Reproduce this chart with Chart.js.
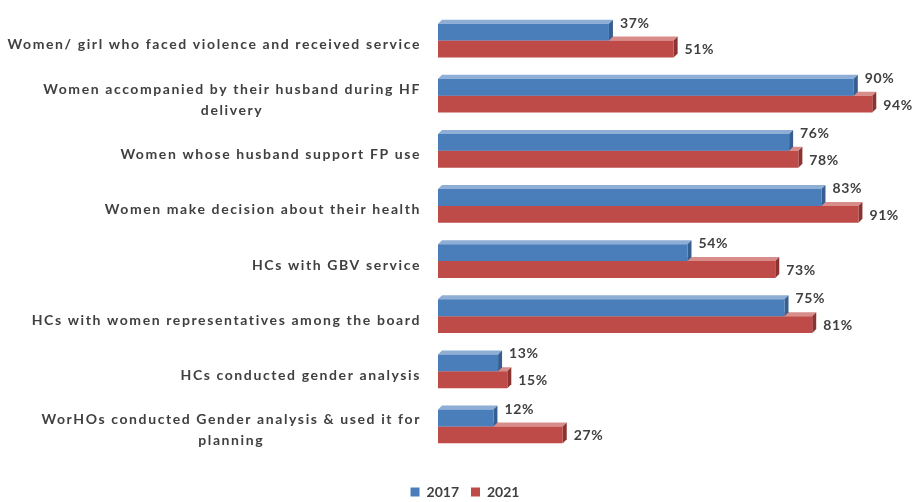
<!DOCTYPE html>
<html>
<head>
<meta charset="utf-8">
<script src="https://cdn.jsdelivr.net/npm/chart.js@4.4.1/dist/chart.umd.min.js"></script>
<style>
    html, body { margin: 0; padding: 0; background: #ffffff; }
    #wrap { width: 914px; height: 502px; position: relative; }
</style>
</head>
<body>
<div id="wrap"><canvas id="genderChart"></canvas></div>
<script>
const categories = [
    'Women/ girl who faced violence and received service',
    ['Women accompanied by their husband during HF', 'delivery'],
    'Women whose husband support FP use',
    'Women make decision about their health',
    'HCs with GBV service',
    'HCs with women representatives among the board',
    'HCs conducted gender analysis',
    ['WorHOs conducted Gender analysis & used it for', 'planning']
];
const values2017 = [37, 90, 76, 83, 54, 75, 13, 12];
const values2021 = [51, 94, 78, 91, 73, 81, 15, 27];
const seriesNames = ['2017', '2021'];

const TEXT = '#404040';
const FONT = 'Lato, "Open Sans", sans-serif';
const DEPTH = 4;
const LEGEND_Y = 492;

const faces = [
    { front: '#4a7ebb', top: '#8eaed6', side: '#355f90' },
    { front: '#be4b48', top: '#d98d8b', side: '#8a3331' }
];

// fake 3d: top and right faces behind the flat bars
const depthPlugin = {
    id: 'depth',
    afterLayout(chart) {
        // push the legend row down to the bottom edge
        const lg = chart.legend;
        const shift = LEGEND_Y - (lg.top + lg.options.labels.padding + 7);
        lg.top += shift;
        lg.bottom += shift;
    },
    beforeDatasetsDraw(chart) {
        const ctx = chart.ctx;
        for (let d = chart.data.datasets.length - 1; d >= 0; d--) {
            const meta = chart.getDatasetMeta(d);
            meta.data.forEach((bar) => {
                const top = bar.y - bar.height / 2;
                const bottom = bar.y + bar.height / 2;
                ctx.save();
                ctx.fillStyle = faces[d].top;
                ctx.beginPath();
                ctx.moveTo(bar.base, top);
                ctx.lineTo(bar.base + DEPTH, top - DEPTH);
                ctx.lineTo(bar.x + DEPTH, top - DEPTH);
                ctx.lineTo(bar.x, top);
                ctx.closePath();
                ctx.fill();
                ctx.fillStyle = faces[d].side;
                ctx.beginPath();
                ctx.moveTo(bar.x, top);
                ctx.lineTo(bar.x + DEPTH, top - DEPTH);
                ctx.lineTo(bar.x + DEPTH, bottom - DEPTH);
                ctx.lineTo(bar.x, bottom);
                ctx.closePath();
                ctx.fill();
                ctx.restore();
            });
        }
    },
    afterDatasetsDraw(chart) {
        const ctx = chart.ctx;
        ctx.save();
        ctx.font = 'bold 14px ' + FONT;
        ctx.letterSpacing = '0.6px';
        ctx.fillStyle = TEXT;
        ctx.textAlign = 'left';
        ctx.textBaseline = 'middle';
        chart.data.datasets.forEach((ds, d) => {
            chart.getDatasetMeta(d).data.forEach((bar, i) => {
                const dy = d === 0 ? -9 : 1;
                ctx.fillText(ds.data[i] + '%', bar.x + DEPTH + 7, bar.y + dy);
            });
        });
        ctx.restore();
    },
    afterDraw(chart) {
        // category labels: block right-aligned, lines centred within the block
        const ctx = chart.ctx;
        const scale = chart.scales.y;
        const right = 421;
        const lineH = 21;
        ctx.save();
        ctx.font = 'bold 14px ' + FONT;
        ctx.letterSpacing = '1.6px';
        ctx.fillStyle = TEXT;
        ctx.textBaseline = 'middle';
        ctx.textAlign = 'left';
        chart.data.labels.forEach((label, i) => {
            const lines = Array.isArray(label) ? label : [label];
            const widths = lines.map((l) => ctx.measureText(l).width);
            const widest = Math.max(...widths);
            const cy = scale.getPixelForValue(i) + 4;
            lines.forEach((line, k) => {
                const x = right - widest / 2 - widths[k] / 2;
                ctx.fillText(line, x, cy + (k - (lines.length - 1) / 2) * lineH);
            });
        });
        ctx.restore();
    }
};

const chart = new Chart(document.getElementById('genderChart').getContext('2d'), {
    type: 'bar',
    data: {
        labels: categories,
        datasets: [
            { label: seriesNames[0], data: values2017, backgroundColor: faces[0].front },
            { label: seriesNames[1], data: values2021, backgroundColor: faces[1].front }
        ]
    },
    options: {
        indexAxis: 'y',
        responsive: true,
        maintainAspectRatio: false,
        animation: false,
        categoryPercentage: 0.61,
        barPercentage: 1,
        layout: { padding: { top: 13, right: 14, bottom: 12, left: 30 } },
        scales: {
            x: { display: false, min: 0, max: 100 },
            y: {
                grid: { display: false },
                border: { display: false },
                ticks: { display: false },
                afterFit(scale) { scale.width = 408; }
            }
        },
        plugins: {
            legend: {
                position: 'bottom',
                labels: {
                    boxWidth: 9,
                    boxHeight: 9,
                    padding: 12,
                    color: TEXT,
                    font: { family: FONT, size: 14, weight: 'bold' }
                }
            },
            tooltip: { enabled: false }
        }
    },
    plugins: [depthPlugin]
});
</script>
</body>
</html>
